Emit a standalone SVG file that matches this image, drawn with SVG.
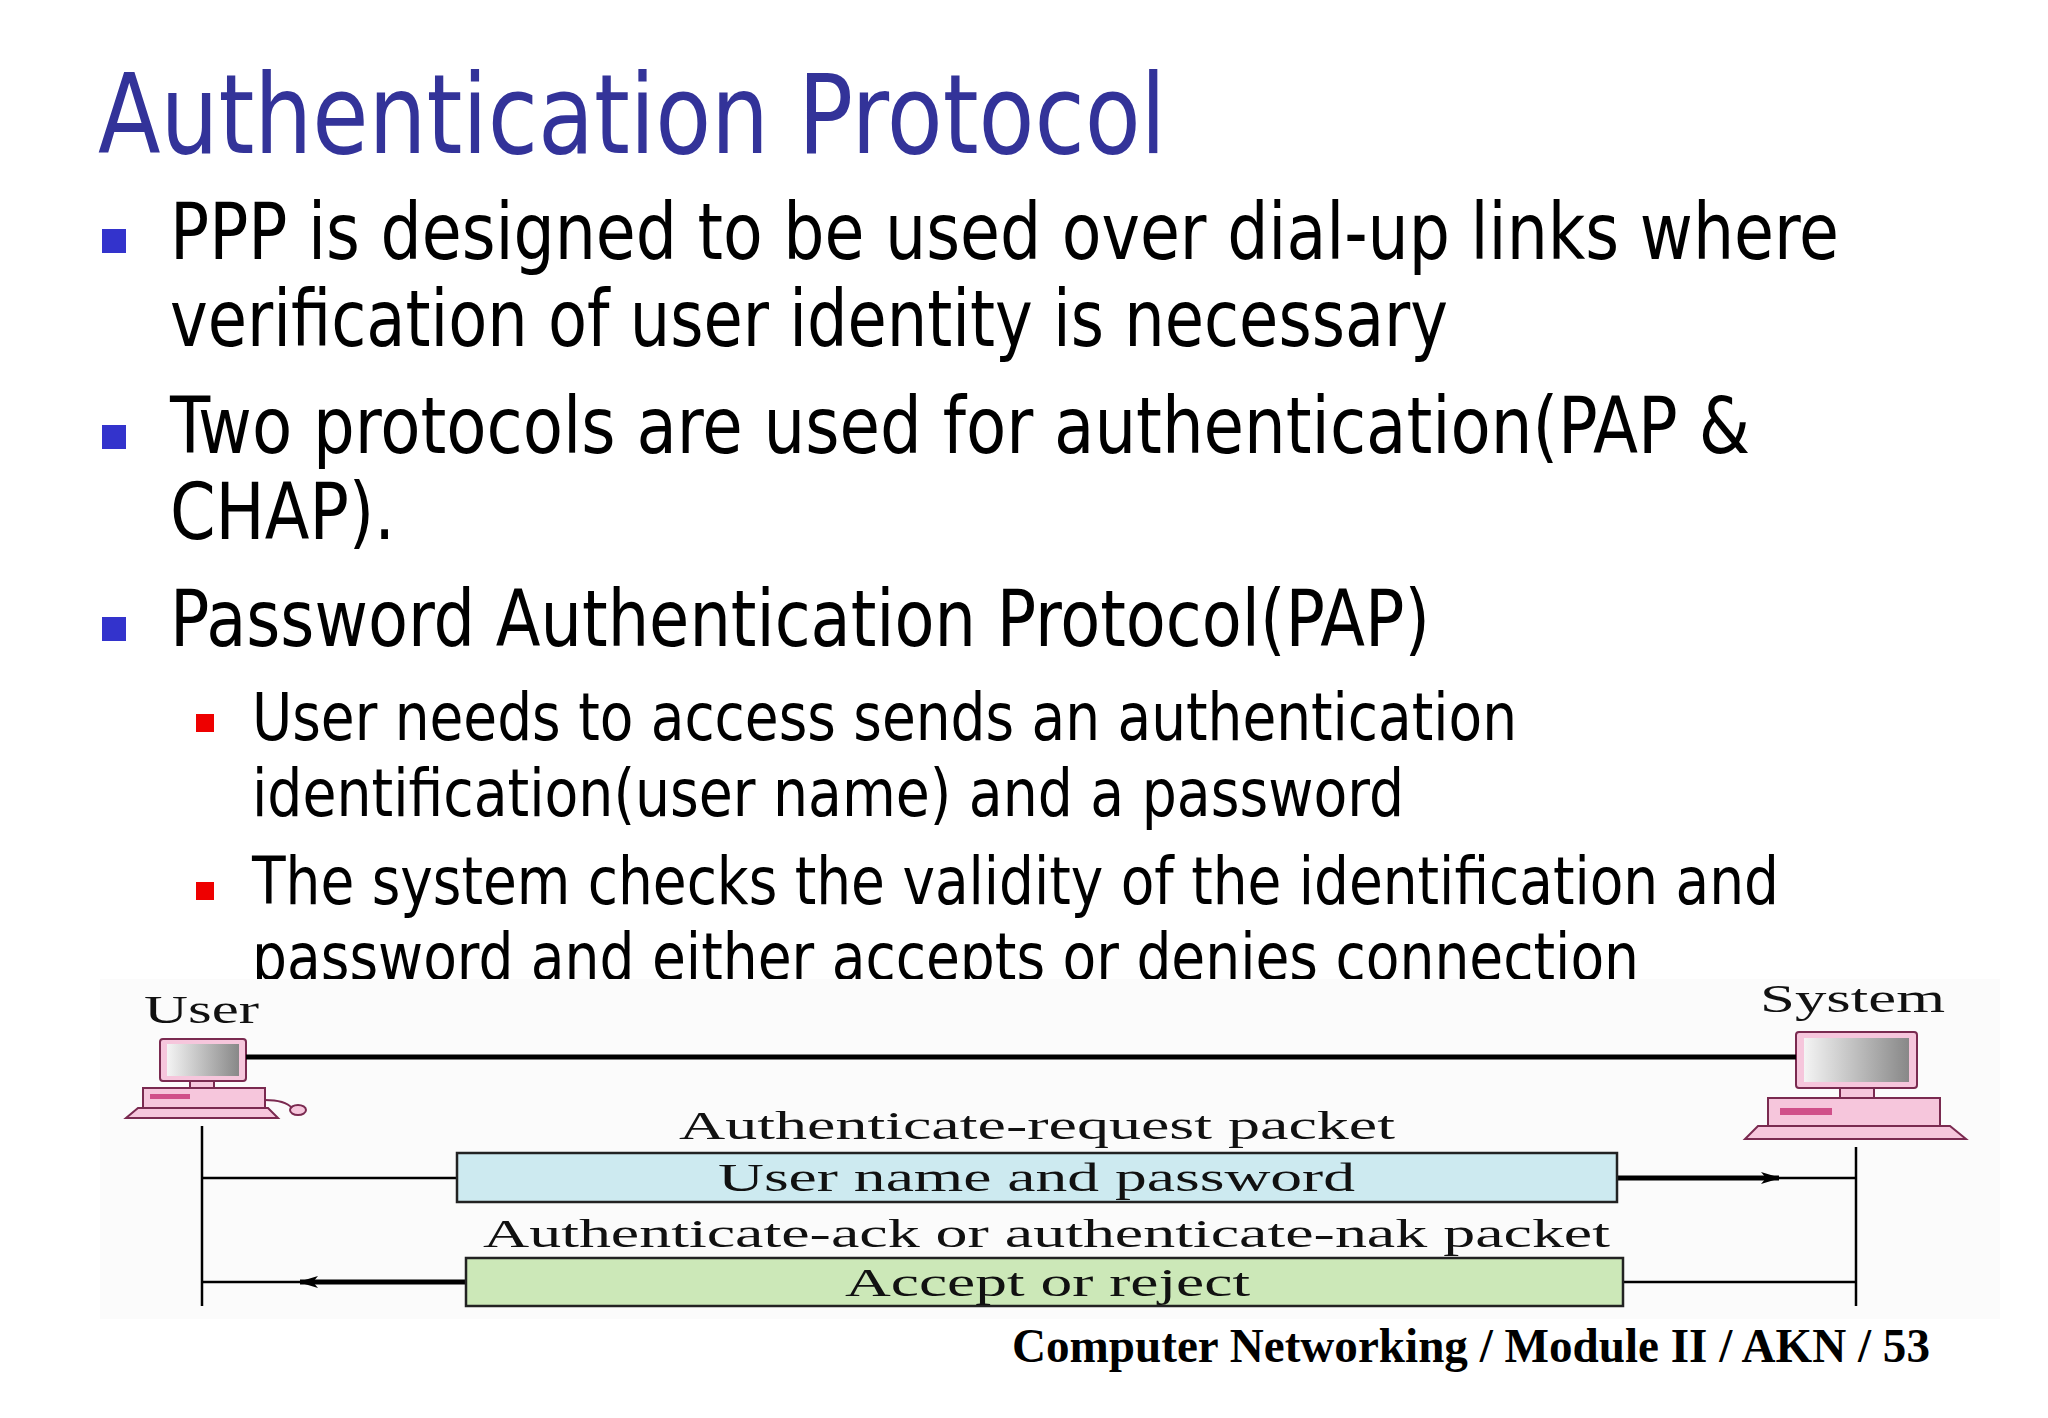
<svg xmlns="http://www.w3.org/2000/svg" width="2048" height="1418" viewBox="0 0 2048 1418">
<style>
.t{font-family:"DejaVu Sans Condensed","DejaVu Sans",sans-serif;fill:#000}
.s{font-family:"Liberation Serif",serif;fill:#111;font-size:40px}
.pk{fill:#f6c6dc;stroke:#7a2a50;stroke-width:2}
</style>
<defs>
<marker id="ah" viewBox="0 0 20 12" refX="18" refY="6" markerWidth="20" markerHeight="12" markerUnits="userSpaceOnUse" orient="auto"><path d="M0,0 L20,6 L0,12 L5,6 Z" fill="#000"/></marker>
<linearGradient id="scr" x1="0" x2="1"><stop offset="0" stop-color="#f4f4f4"/><stop offset="1" stop-color="#888"/></linearGradient>
</defs>
<rect width="2048" height="1418" fill="#fff"/>
<text x="98" y="153" font-size="110" fill="#333399" class="t" style="fill:#333399" textLength="1068" lengthAdjust="spacingAndGlyphs">Authentication Protocol</text>
<g id="bullets">
<rect x="102" y="229" width="24" height="24" fill="#3333cc"/>
<rect x="102" y="425" width="24" height="24" fill="#3333cc"/>
<rect x="102" y="617" width="24" height="24" fill="#3333cc"/>
<rect x="196" y="714" width="18" height="18" fill="#e00"/>
<rect x="196" y="882" width="18" height="18" fill="#e00"/>
<text class="t" x="170" y="259" font-size="78" textLength="1669" lengthAdjust="spacingAndGlyphs">PPP is designed to be used over dial-up links where</text>
<text class="t" x="170" y="346" font-size="78" textLength="1278" lengthAdjust="spacingAndGlyphs">verification of user identity is necessary</text>
<text class="t" x="170" y="453" font-size="78" textLength="1580" lengthAdjust="spacingAndGlyphs">Two protocols are used for authentication(PAP &amp;</text>
<text class="t" x="170" y="539" font-size="78" textLength="225" lengthAdjust="spacingAndGlyphs">CHAP).</text>
<text class="t" x="170" y="646" font-size="78" textLength="1260" lengthAdjust="spacingAndGlyphs">Password Authentication Protocol(PAP)</text>
<text class="t" x="252" y="740" font-size="66" textLength="1265" lengthAdjust="spacingAndGlyphs">User needs to access sends an authentication</text>
<text class="t" x="252" y="816" font-size="66" textLength="1152" lengthAdjust="spacingAndGlyphs">identification(user name) and a password</text>
<text class="t" x="252" y="904" font-size="66" textLength="1527" lengthAdjust="spacingAndGlyphs">The system checks the validity of the identification and</text>
<text class="t" x="252" y="980" font-size="66" textLength="1387" lengthAdjust="spacingAndGlyphs">password and either accepts or denies connection</text>
</g>
<rect x="100" y="979" width="1900" height="340" fill="#fbfbfb"/>
<g id="user">
<text class="s" x="144" y="1023" textLength="115" lengthAdjust="spacingAndGlyphs">User</text>
<rect class="pk" x="160" y="1039" width="86" height="42" rx="3"/>
<rect x="167" y="1044" width="72" height="32" fill="url(#scr)"/>
<rect class="pk" x="190" y="1081" width="24" height="7"/>
<rect class="pk" x="143" y="1088" width="122" height="20"/>
<rect x="150" y="1094" width="40" height="5" fill="#d0508a"/>
<path class="pk" d="M138,1108 L268,1108 L278,1118 L126,1118 Z"/>
<ellipse class="pk" cx="298" cy="1110" rx="8" ry="5"/>
<path d="M265,1100 Q285,1100 292,1108" fill="none" stroke="#7a2a50" stroke-width="2"/>
</g>
<g id="system">
<text class="s" x="1760" y="1012" textLength="185" lengthAdjust="spacingAndGlyphs">System</text>
<rect class="pk" x="1796" y="1032" width="121" height="56" rx="3"/>
<rect x="1804" y="1038" width="105" height="44" fill="url(#scr)"/>
<rect class="pk" x="1840" y="1088" width="34" height="10"/>
<rect class="pk" x="1768" y="1098" width="172" height="28"/>
<rect x="1780" y="1108" width="52" height="7" fill="#d0508a"/>
<path class="pk" d="M1758,1126 L1950,1126 L1966,1139 L1745,1139 Z"/>
</g>
<g id="connectors" stroke="#000" fill="none">
<line x1="246" y1="1057" x2="1796" y2="1057" stroke-width="5"/>
<line x1="202" y1="1126" x2="202" y2="1306" stroke-width="2.5"/>
<line x1="1856" y1="1147" x2="1856" y2="1306" stroke-width="2.5"/>
<line x1="202" y1="1178" x2="457" y2="1178" stroke-width="2.5"/>
<line x1="1617" y1="1178" x2="1779" y2="1178" stroke-width="5" marker-end="url(#ah)"/>
<line x1="1770" y1="1178" x2="1856" y2="1178" stroke-width="2.5"/>
<line x1="466" y1="1282" x2="300" y2="1282" stroke-width="5" marker-end="url(#ah)"/>
<line x1="310" y1="1282" x2="202" y2="1282" stroke-width="2.5"/>
<line x1="1623" y1="1282" x2="1856" y2="1282" stroke-width="2.5"/>
</g>
<g id="request">
<text class="s" x="679" y="1139" textLength="716" lengthAdjust="spacingAndGlyphs">Authenticate-request packet</text>
<rect x="457" y="1153" width="1160" height="49" fill="#cdeaf0" stroke="#222" stroke-width="2.5"/>
<text class="s" x="718" y="1191" textLength="637" lengthAdjust="spacingAndGlyphs">User name and password</text>
</g>
<g id="reply">
<text class="s" x="483" y="1247" textLength="1127" lengthAdjust="spacingAndGlyphs">Authenticate-ack or authenticate-nak packet</text>
<rect x="466" y="1258" width="1157" height="48" fill="#cce8b8" stroke="#222" stroke-width="2.5"/>
<text class="s" x="845" y="1296" textLength="405" lengthAdjust="spacingAndGlyphs">Accept or reject</text>
</g>
<text x="1012" y="1362" font-family="Liberation Serif,serif" font-weight="bold" font-size="48" textLength="918" lengthAdjust="spacingAndGlyphs">Computer Networking / Module II / AKN / 53</text>
</svg>
